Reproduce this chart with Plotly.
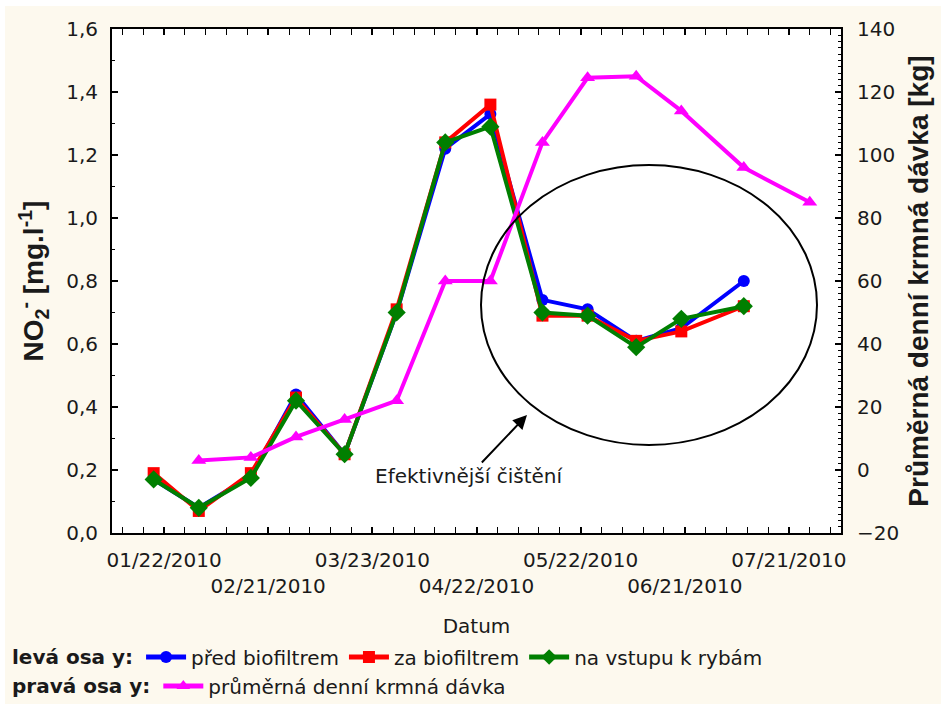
import plotly.graph_objects as go

# --- data -------------------------------------------------------------
no2_dates = ["2010-01-19", "2010-02-01", "2010-02-16", "2010-03-01", "2010-03-15",
             "2010-03-30", "2010-04-13", "2010-04-26", "2010-05-11", "2010-05-24",
             "2010-06-07", "2010-06-20", "2010-07-08"]
pred_biofiltrem = [0.17, 0.08, 0.18, 0.44, 0.25, 0.70, 1.22, 1.33, 0.74, 0.71, 0.61, 0.65, 0.80]
za_biofiltrem = [0.19, 0.07, 0.19, 0.43, 0.25, 0.71, 1.24, 1.36, 0.69, 0.69, 0.61, 0.64, 0.72]
na_vstupu = [0.17, 0.08, 0.175, 0.42, 0.25, 0.70, 1.24, 1.29, 0.70, 0.69, 0.59, 0.68, 0.72]

feed_dates = ["2010-02-01", "2010-02-16", "2010-03-01", "2010-03-15", "2010-03-30",
              "2010-04-13", "2010-04-26", "2010-05-11", "2010-05-24", "2010-06-07",
              "2010-06-20", "2010-07-08", "2010-07-27"]
krmna_davka = [3, 4, 10.5, 16, 22, 60, 60, 104, 124.5, 125, 114, 96, 85]

x_tick_dates = ["2010-01-22", "2010-02-21", "2010-03-23", "2010-04-22",
                "2010-05-22", "2010-06-21", "2010-07-21"]
x_tick_labels = ["01/22/2010", "02/21/2010", "03/23/2010", "04/22/2010",
                 "05/22/2010", "06/21/2010", "07/21/2010"]

# --- style ------------------------------------------------------------
FONT = "DejaVu Sans, Verdana, sans-serif"
TITLE_FONT = "Liberation Sans, Arial, sans-serif"
INK = "#1a1a1a"
CREAM = "#fdf9ee"

# plot area in pixels
W, H = 941, 704
L, R, T, B = 112, 100, 29, 171
PW, PH = W - L - R, H - T - B


def px_x(px):
    return (px - L) / PW


def px_y(py):
    return (H - B - py) / PH


fig = go.Figure()

series = [
    ("před biofiltrem", pred_biofiltrem, "#0000ff", "circle", 12),
    ("za biofiltrem", za_biofiltrem, "#ff0000", "square", 12),
    ("na vstupu k rybám", na_vstupu, "#007f00", "diamond", 14),
]
for name, vals, color, symbol, size in series:
    fig.add_trace(go.Scatter(
        x=no2_dates, y=vals, name=name, mode="lines+markers",
        line=dict(color=color, width=4),
        marker=dict(symbol=symbol, size=size, color=color),
        legend="legend", yaxis="y",
    ))

fig.add_trace(go.Scatter(
    x=feed_dates, y=krmna_davka, name="průměrná denní krmná dávka",
    mode="lines+markers",
    line=dict(color="#ff00ff", width=4),
    marker=dict(symbol="triangle-up", size=13, color="#ff00ff"),
    legend="legend2", yaxis="y2",
))

# staggered date labels: every second label drops to a second row
ticktext = [lab if i % 2 == 0 else "<br>" + lab for i, lab in enumerate(x_tick_labels)]

axis_common = dict(
    showline=True, linecolor="black", linewidth=2,
    ticks="inside", ticklen=6, tickwidth=1.5, tickcolor="black",
    showgrid=False, zeroline=False,
    tickfont=dict(family=FONT, size=20, color=INK),
)

fig.update_layout(
    width=W, height=H,
    margin=dict(l=L, r=R, t=T, b=B, autoexpand=False),
    paper_bgcolor=CREAM, plot_bgcolor="white",
    separators=", ",
    showlegend=True,
    xaxis=dict(
        **axis_common,
        type="date",
        range=["2010-01-07", "2010-08-05"],
        tickmode="array", tickvals=x_tick_dates, ticktext=ticktext,
        tickangle=0,
        mirror="allticks",
        minor=dict(dtick=6 * 86400000, tick0="2010-01-22", ticks="inside",
                   ticklen=3, tickcolor="black", tickwidth=1),
        ticklabelstandoff=8,
        title=dict(text="Datum", font=dict(family=FONT, size=20, color=INK), standoff=22),
    ),
    yaxis=dict(
        **axis_common,
        range=[0, 1.6], dtick=0.2, tickformat=".1f",
        minor=dict(dtick=0.1, ticks="inside", ticklen=3, tickcolor="black", tickwidth=1),
        ticklabelstandoff=8,
        title=dict(text="<b>NO<sub>2</sub><sup>-</sup> [mg.l<sup>-1</sup>]</b>",
                   font=dict(family=TITLE_FONT, size=28, color=INK), standoff=14),
    ),
    yaxis2=dict(
        **axis_common,
        overlaying="y", side="right",
        range=[-20, 140], dtick=20,
        minor=dict(dtick=2, ticks="inside", ticklen=3, tickcolor="black", tickwidth=1),
        ticklabelstandoff=10,
        title=dict(text="<b>Průměrná denní krmná dávka [kg]</b>",
                   font=dict(family=TITLE_FONT, size=28, color=INK), standoff=10),
    ),
    legend=dict(
        orientation="h", x=px_x(10), y=px_y(657), xanchor="left", yanchor="middle",
        bgcolor="rgba(0,0,0,0)", itemwidth=40, itemsizing="constant",
        font=dict(family=FONT, size=20, color=INK),
        title=dict(text="<b>levá osa y:</b>", side="left",
                   font=dict(family=FONT, size=20, color=INK)),
    ),
    legend2=dict(
        orientation="h", x=px_x(10), y=px_y(686), xanchor="left", yanchor="middle",
        bgcolor="rgba(0,0,0,0)", itemwidth=40, itemsizing="constant",
        font=dict(family=FONT, size=20, color=INK),
        title=dict(text="<b>pravá osa y:</b>", side="left",
                   font=dict(family=FONT, size=20, color=INK)),
    ),
)

# highlighted region and its note
fig.add_shape(type="circle", xref="paper", yref="paper",
              x0=px_x(481), x1=px_x(817), y0=px_y(445), y1=px_y(165),
              line=dict(color="black", width=2))
fig.add_annotation(
    xref="paper", yref="paper", x=px_x(527), y=px_y(415),
    ax=-58, ay=61, text="Efektivnější čištění",
    font=dict(family=FONT, size=20, color=INK),
    showarrow=True, arrowhead=2, arrowsize=1.4, arrowwidth=2, arrowcolor="black",
)

# thin white strips along the top and left edge of the page
fig.add_shape(type="rect", xref="paper", yref="paper", layer="below",
              x0=px_x(-5), x1=px_x(W + 5), y0=px_y(6), y1=px_y(-5),
              fillcolor="white", line=dict(width=0))
fig.add_shape(type="rect", xref="paper", yref="paper", layer="below",
              x0=px_x(-5), x1=px_x(5), y0=px_y(H + 5), y1=px_y(-5),
              fillcolor="white", line=dict(width=0))

fig.write_html("out.html")
